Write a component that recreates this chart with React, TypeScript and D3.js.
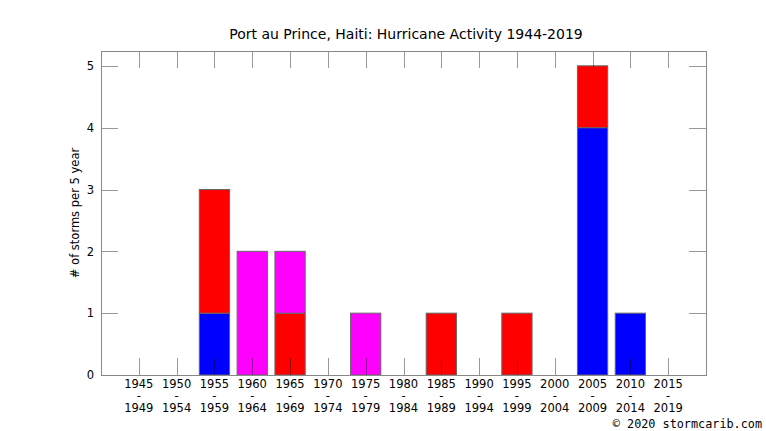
import React from "react";
import * as d3 from "d3";

const startYears = [1945, 1950, 1955, 1960, 1965, 1970, 1975, 1980, 1985, 1990, 1995, 2000, 2005, 2010, 2015];
const endYears = [1949, 1954, 1959, 1964, 1969, 1974, 1979, 1984, 1989, 1994, 1999, 2004, 2009, 2014, 2019];
const blueSeries = [0, 0, 1, 0, 0, 0, 0, 0, 0, 0, 0, 0, 4, 1, 0];
const redSeries = [0, 0, 2, 0, 1, 0, 0, 0, 1, 0, 1, 0, 1, 0, 0];
const magentaSeries = [0, 0, 0, 2, 1, 0, 1, 0, 0, 0, 0, 0, 0, 0, 0];
const yTicks = [0, 1, 2, 3, 4, 5];
const seriesKeys = ["blue", "red", "magenta"];
const seriesColors: Record<string, string> = { blue: "#0000ff", red: "#ff0000", magenta: "#ff00ff" };

const W = 766;
const H = 431;
const L = 101, R = 706, T = 51, B = 375;

export default function App() {
  const x = d3.scaleLinear().domain([-1, 15]).range([L, R]);
  const y = d3.scaleLinear().domain([0, 5.24]).range([B, T]);
  const rows = startYears.map((s, i) => ({ i, blue: blueSeries[i], red: redSeries[i], magenta: magentaSeries[i] }));
  const stacked = d3.stack<any>().keys(seriesKeys)(rows);
  const font = "DejaVu Sans, sans-serif";
  const tickColor = "rgba(0,0,0,0.4)";
  const tickLen = 17;

  return (
    <svg width={W} height={H} style={{ position: "fixed", left: 0, top: 0, background: "#fff" }} fontFamily={font}>
      <rect x={0} y={0} width={W} height={H} fill="#fff" />
      <text x={406} y={38.5} textAnchor="middle" fontSize={14} fill="#000">
        Port au Prince, Haiti: Hurricane Activity 1944-2019
      </text>
      {stacked.map((layer) =>
        layer.map((d, i) => {
          const h = d[1] - d[0];
          if (h <= 0) return null;
          return (
            <rect
              key={layer.key + i}
              x={x(i - 0.4)}
              y={y(d[1])}
              width={x(i + 0.4) - x(i - 0.4)}
              height={y(d[0]) - y(d[1])}
              fill={seriesColors[layer.key]}
              stroke="#666"
              strokeWidth={1}
            />
          );
        })
      )}
      {startYears.map((s, i) => (
        <g key={"xt" + i}>
          <line x1={Math.round(x(i)) + 0.5} x2={Math.round(x(i)) + 0.5} y1={B} y2={B - tickLen} stroke={tickColor} />
          <line x1={Math.round(x(i)) + 0.5} x2={Math.round(x(i)) + 0.5} y1={T} y2={T + tickLen} stroke={tickColor} />
        </g>
      ))}
      {yTicks.map((v) => (
        <g key={"yt" + v}>
          <line x1={L} x2={L + tickLen} y1={Math.round(y(v)) + 0.5} y2={Math.round(y(v)) + 0.5} stroke={tickColor} />
          <line x1={R} x2={R - tickLen} y1={Math.round(y(v)) + 0.5} y2={Math.round(y(v)) + 0.5} stroke={tickColor} />
          <text x={94} y={y(v) + 4.2} textAnchor="end" fontSize={11.5} fill="#000">
            {v}
          </text>
        </g>
      ))}
      <rect x={L + 0.5} y={T + 0.5} width={R - L} height={B - T} fill="none" stroke="#888" strokeWidth={1} />
      {startYears.map((s, i) => (
        <g key={"xl" + i}>
          <text x={x(i)} y={388} textAnchor="middle" fontSize={11.5} fill="#000">{s}</text>
          <text x={x(i)} y={399.5} textAnchor="middle" fontSize={11.5} fill="#000">-</text>
          <text x={x(i)} y={411.5} textAnchor="middle" fontSize={11.5} fill="#000">{endYears[i]}</text>
        </g>
      ))}
      <text
        transform={`translate(79,${(T + B) / 2}) rotate(-90)`}
        textAnchor="middle"
        fontSize={11.5}
        fill="#000"
      >
        # of storms per 5 year
      </text>
      <text x={762} y={428} textAnchor="end" fontSize={11.8} fontFamily="DejaVu Sans Mono, monospace" fill="#000">
        © 2020 stormcarib.com
      </text>
    </svg>
  );
}
